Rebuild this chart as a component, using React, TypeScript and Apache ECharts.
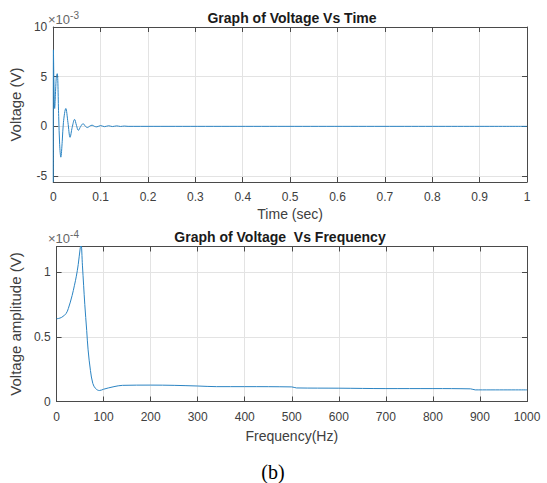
import React, { useEffect, useRef } from "react";
import * as echarts from "echarts";

// Time-domain signal (t in s, voltage in units of 1e-3 V)
const TIME = [0, 0.0004, 0.003, 0.0065, 0.0084, 0.0115, 0.0135, 0.016, 0.019, 0.0215, 0.0265, 0.031, 0.0355, 0.04, 0.045, 0.049, 0.053, 0.058, 0.063, 0.068, 0.072, 0.077, 0.082, 0.087, 0.092, 0.1, 0.108, 0.117, 0.125, 0.134, 0.142, 0.15, 0.158, 0.17, 1.0];
const VOLT = [-5.6, 7.7, 1.8, 5.0, 5.3, 1.0, -1.8, -3.1, -1.5, 0.4, 1.8, 0.4, -1.1, -0.1, 0.7, 0.1, -0.4, 0.0, 0.27, 0.0, -0.12, 0.02, 0.12, 0.0, -0.05, 0.08, -0.03, 0.06, -0.02, 0.05, -0.01, 0.03, 0, 0, 0];

// Frequency-domain amplitude (f in Hz, amplitude in units of 1e-4 V)
const FREQ = [0, 10, 20, 25, 33, 38, 42, 46, 50, 52, 55, 60, 64, 67, 72, 77, 83, 91, 100, 110, 122, 140, 200, 250, 300, 340, 400, 500, 510, 600, 700, 800, 880, 890, 1000];
const AMP = [0.64, 0.65, 0.68, 0.72, 0.82, 0.9, 0.97, 1.06, 1.18, 1.22, 1.05, 0.75, 0.55, 0.4, 0.24, 0.14, 0.1, 0.085, 0.095, 0.105, 0.115, 0.125, 0.127, 0.125, 0.12, 0.115, 0.115, 0.113, 0.105, 0.103, 0.1, 0.1, 0.098, 0.09, 0.09];

const TOP_Y_TICKS = [-5, 0, 5, 10];
const BOTTOM_Y_TICKS = [0, 0.5, 1];

const FONT = "Liberation Sans, Arial, sans-serif";
const FRAME = "#4a4a4a";
const LABEL = "#404040";
const GRIDC = "#e3e3e3";
const LINE = "#2b84c3";

export default function App() {
  const ref = useRef<HTMLDivElement>(null);
  useEffect(() => {
    if (!ref.current) return;
    const chart = echarts.init(ref.current, undefined, { renderer: "svg" });
    const topData = TIME.map((t, i) => [t, VOLT[i]]);
    const botData = FREQ.map((f, i) => [f, AMP[i]]);

    const tick = { show: true, inside: true, length: 5, lineStyle: { color: FRAME, width: 1 } };
    const axisLine = { show: true, onZero: false, lineStyle: { color: FRAME, width: 1 } };
    const label = { color: LABEL, fontSize: 12, fontFamily: FONT, formatter: (v: number) => String(+v.toFixed(4)) };
    const nameStyle = { color: LABEL, fontSize: 14, fontFamily: FONT };
    const split = { show: true, lineStyle: { color: GRIDC, width: 1 } };

    const option: any = {
      animation: false,
      backgroundColor: "#ffffff",
      title: [
        {
          text: "Graph of Voltage Vs Time",
          left: 287,
          top: 6,
          textAlign: "center",
          textStyle: { fontSize: 14, fontWeight: "bold", color: "#1a1a1a", fontFamily: FONT },
        },
        {
          text: "Graph of Voltage  Vs Frequency",
          left: 275,
          top: 225,
          textAlign: "center",
          textStyle: { fontSize: 14, fontWeight: "bold", color: "#1a1a1a", fontFamily: FONT },
        },
      ],
      grid: [
        { left: 48, top: 27, width: 479, height: 155, containLabel: false },
        { left: 48, top: 246.5, width: 479, height: 155, containLabel: false },
      ],
      xAxis: [
        {
          type: "value", gridIndex: 0, min: 0, max: 1, interval: 0.1, position: "bottom",
          name: "Time (sec)", nameLocation: "middle", nameGap: 25, nameTextStyle: nameStyle,
          axisLine, axisTick: tick, axisLabel: { ...label, margin: 9 }, splitLine: split,
        },
        {
          type: "value", gridIndex: 0, min: 0, max: 1, interval: 0.1, position: "top",
          axisLine, axisTick: tick, axisLabel: { show: false }, splitLine: { show: false },
        },
        {
          type: "value", gridIndex: 1, min: 0, max: 1000, interval: 100, position: "bottom",
          name: "Frequency(Hz)", nameLocation: "middle", nameGap: 27, nameTextStyle: nameStyle,
          axisLine, axisTick: tick, axisLabel: { ...label, margin: 9 }, splitLine: split,
        },
        {
          type: "value", gridIndex: 1, min: 0, max: 1000, interval: 100, position: "top",
          axisLine, axisTick: tick, axisLabel: { show: false }, splitLine: { show: false },
        },
      ],
      yAxis: [
        {
          type: "value", gridIndex: 0, min: -5.6, max: 10, position: "left",
          name: "Voltage (V)", nameLocation: "middle", nameGap: 23, nameTextStyle: { ...nameStyle, fontSize: 15 },
          axisLine, axisTick: { ...tick, customValues: TOP_Y_TICKS },
          axisLabel: { ...label, margin: 6, customValues: TOP_Y_TICKS }, splitLine: split,
        },
        {
          type: "value", gridIndex: 0, min: -5.6, max: 10, position: "right",
          axisLine, axisTick: { ...tick, customValues: TOP_Y_TICKS },
          axisLabel: { show: false }, splitLine: { show: false },
        },
        {
          type: "value", gridIndex: 1, min: 0, max: 1.2, position: "left",
          name: "Voltage amplitude (V)", nameLocation: "middle", nameGap: 23, nameTextStyle: { ...nameStyle, fontSize: 15 },
          axisLine, axisTick: { ...tick, customValues: BOTTOM_Y_TICKS },
          axisLabel: { ...label, margin: 6, customValues: BOTTOM_Y_TICKS }, splitLine: split,
        },
        {
          type: "value", gridIndex: 1, min: 0, max: 1.2, position: "right",
          axisLine, axisTick: { ...tick, customValues: BOTTOM_Y_TICKS },
          axisLabel: { show: false }, splitLine: { show: false },
        },
      ],
      series: [
        {
          type: "line", xAxisIndex: 0, yAxisIndex: 0, data: topData, showSymbol: false,
          smooth: 0.35, clip: true, lineStyle: { color: LINE, width: 1 }, itemStyle: { color: LINE },
        },
        {
          type: "line", xAxisIndex: 2, yAxisIndex: 2, data: botData, showSymbol: false,
          smooth: 0.35, clip: true, lineStyle: { color: LINE, width: 1 }, itemStyle: { color: LINE },
        },
      ],
      graphic: [
        {
          type: "text", left: 48, top: 10,
          style: {
            text: "{a|×10}{b|-3}",
            rich: {
              a: { fontSize: 13, fontFamily: FONT, fill: "#666", padding: [6, 0, 0, 0] },
              b: { fontSize: 10, fontFamily: FONT, fill: "#666", padding: [0, 0, 3, 0] },
            },
          },
        },
        {
          type: "text", left: 48, top: 229,
          style: {
            text: "{a|×10}{b|-4}",
            rich: {
              a: { fontSize: 13, fontFamily: FONT, fill: "#666", padding: [6, 0, 0, 0] },
              b: { fontSize: 10, fontFamily: FONT, fill: "#666", padding: [0, 0, 3, 0] },
            },
          },
        },
        {
          type: "text", x: 273, y: 472,
          style: {
            text: "(b)", fontSize: 20, fontFamily: "Liberation Serif, Times New Roman, serif",
            fill: "#000", align: "center", verticalAlign: "middle",
          },
        },
      ],
    };
    chart.setOption(option);
    return () => chart.dispose();
  }, []);
  return (
    <div
      ref={ref}
      style={{ position: "absolute", left: 0, top: 0, width: 547, height: 483, background: "#fff" }}
    />
  );
}
